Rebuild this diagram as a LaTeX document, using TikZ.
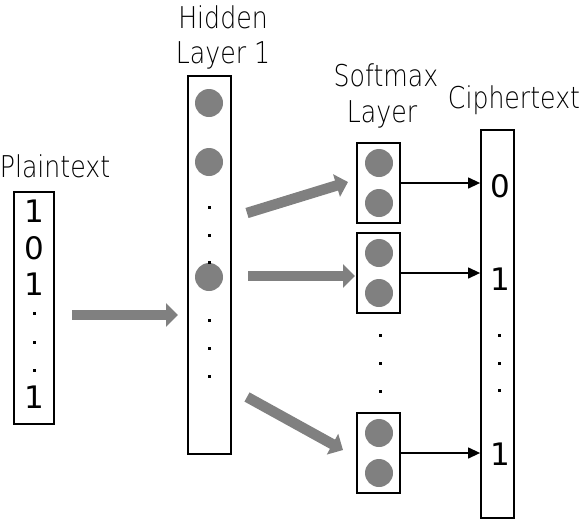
\documentclass[tikz,border=0pt]{standalone}
\usepackage{fontspec}
\setmainfont{DejaVu Sans}
\newfontfamily\lightfont{DejaVu Sans ExtraLight}[FakeStretch=0.84]
\usetikzlibrary{arrows.meta}
\definecolor{neurongray}{HTML}{808080}
\tikzset{
  box/.style={draw=black, line width=1.8pt, inner sep=0pt, rectangle},
  lbl/.style={font=\lightfont\fontsize{30}{36}\selectfont, anchor=base, inner sep=0pt},
  digit/.style={font=\fontsize{31}{36}\selectfont, inner sep=0pt},
  neuron/.style={circle, fill=neurongray, minimum size=28pt, inner sep=0pt},
  bigarrow/.style={draw=neurongray, line width=10.5pt, -{Triangle[length=12pt,width=23pt]}},
  thinarrow/.style={draw=black, line width=1.3pt, -{Triangle[length=12pt,width=11pt]}},
  dotmark/.style={fill=black, minimum size=3pt, inner sep=0pt, rectangle}
}
\begin{document}
\begin{tikzpicture}[x=1pt, y=-1pt]
\useasboundingbox (0,0) rectangle (581,520);

% Plaintext
\node[lbl] (plainlbl) at (55,177) {Plaintext};
\node[box, minimum width=40pt, minimum height=232pt] (plain) at (34,308) {};
\node[digit] (p1) at (34,211) {1};
\node[digit] (p2) at (34,248) {0};
\node[digit] (p3) at (34,284) {1};
\node[dotmark] (pd1) at (34,313) {};
\node[dotmark] (pd2) at (34,342) {};
\node[dotmark] (pd3) at (34,370) {};
\node[digit] (p4) at (34,397) {1};

% Hidden layer
\node[lbl] (hidlbl1) at (223,28) {Hidden};
\node[lbl] (hidlbl2) at (223,63) {Layer 1};
\node[box, minimum width=43pt, minimum height=378pt] (hidden) at (209.5,265) {};
\node[neuron] (h1) at (209,103) {};
\node[neuron] (h2) at (209,162) {};
\node[neuron] (h3) at (209,277) {};
\foreach \yy [count=\i] in {207,235,262,320,348,376}
  \node[dotmark] (hd\i) at (209,\yy) {};

% Softmax layer
\node[lbl] (smlbl1) at (386,86) {Softmax};
\node[lbl] (smlbl2) at (382,122) {Layer};
\foreach \cy [count=\i] in {183,273,453} {
  \node[box, minimum width=43pt, minimum height=80pt] (sm\i) at (378.5,\cy) {};
  \node[neuron] (sm\i a) at (379,\cy-20) {};
  \node[neuron] (sm\i b) at (379,\cy+20) {};
}
\node[dotmark] (sd1) at (380,335) {};
\node[dotmark] (sd2) at (380,363) {};
\node[dotmark] (sd3) at (380,391) {};

% Ciphertext
\node[lbl] (ciplbl) at (514,108) {Ciphertext};
\node[box, minimum width=33pt, minimum height=388pt] (cipher) at (497.5,324) {};
\node[digit] (c1) at (500,186) {0};
\node[digit] (c2) at (500,279) {1};
\node[dotmark] (cd1) at (499,335) {};
\node[dotmark] (cd2) at (499,363) {};
\node[dotmark] (cd3) at (499,390) {};
\node[digit] (c3) at (500,454) {1};

% thin arrows
\draw[thinarrow] (sm1.east) -- (sm1.east -| cipher.west);
\draw[thinarrow] (sm2.east) -- (sm2.east -| cipher.west);
\draw[thinarrow] (sm3.east) -- (sm3.east -| cipher.west);

% big gray arrows
\coordinate (a0s) at (72,315);
\coordinate (a0e) at (178,315);
\coordinate (a1s) at (247,213);
\coordinate (a1e) at (348,182);
\coordinate (a2s) at (248,276);
\coordinate (a2e) at (355,276);
\coordinate (a3s) at (247,397);
\coordinate (a3e) at (343,450);
\draw[bigarrow] (a0s) -- (a0e);
\draw[bigarrow] (a1s) -- (a1e);
\draw[bigarrow] (a2s) -- (a2e);
\draw[bigarrow] (a3s) -- (a3e);
\end{tikzpicture}
\end{document}
